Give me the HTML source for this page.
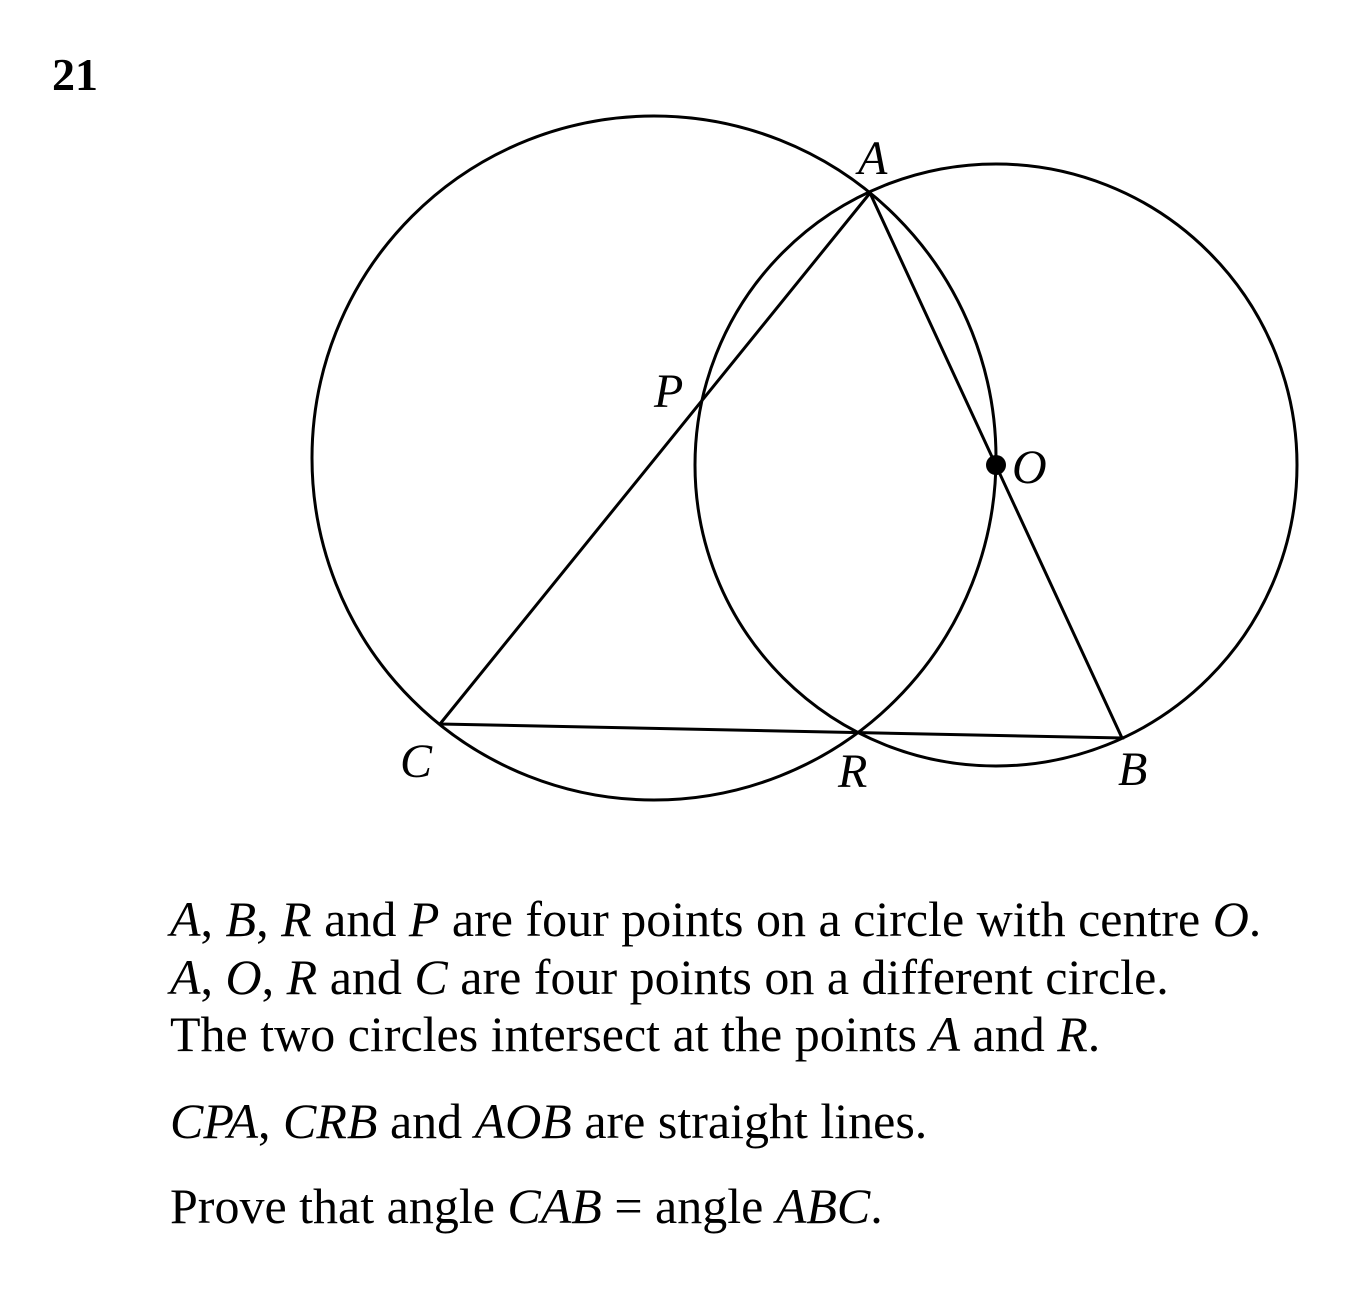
<!DOCTYPE html>
<html><head><meta charset="utf-8"><style>
html,body{margin:0;padding:0;background:#fff;}
body{width:1361px;height:1313px;position:relative;overflow:hidden;font-family:"Liberation Serif",serif;}
.t{position:absolute;left:170px;font-size:50px;white-space:nowrap;color:#000;line-height:1;}
i{font-style:italic;}
</style></head><body>
<svg width="1361" height="1313" style="position:absolute;left:0;top:0">
<g fill="none" stroke="#000" stroke-width="3">
<circle cx="654" cy="458" r="342"/>
<circle cx="996" cy="465" r="301"/>
<polyline points="440,724 870,193 1122,738 440,724"/>
</g>
<circle cx="996" cy="465" r="10" fill="#000"/>
<g font-family="Liberation Serif, serif" font-style="italic" font-size="48" fill="#000">
<text x="858" y="174">A</text>
<text x="654" y="407">P</text>
<text x="1012" y="483">O</text>
<text x="400" y="777">C</text>
<text x="838" y="787">R</text>
<text x="1118" y="785">B</text>
</g>
<text x="52" y="90" font-family="Liberation Serif, serif" font-weight="bold" font-size="46">21</text>
</svg>
<div class="t" style="top:894px"><i>A</i>, <i>B</i>, <i>R</i> and <i>P</i> are four points on a circle with centre <i>O</i>.</div>
<div class="t" style="top:952px"><i>A</i>, <i>O</i>, <i>R</i> and <i>C</i> are four points on a different circle.</div>
<div class="t" style="top:1009px">The two circles intersect at the points <i>A</i> and <i>R</i>.</div>
<div class="t" style="top:1096px"><i>CPA</i>, <i>CRB</i> and <i>AOB</i> are straight lines.</div>
<div class="t" style="top:1181px">Prove that angle <i>CAB</i> = angle <i>ABC</i>.</div>
</body></html>
